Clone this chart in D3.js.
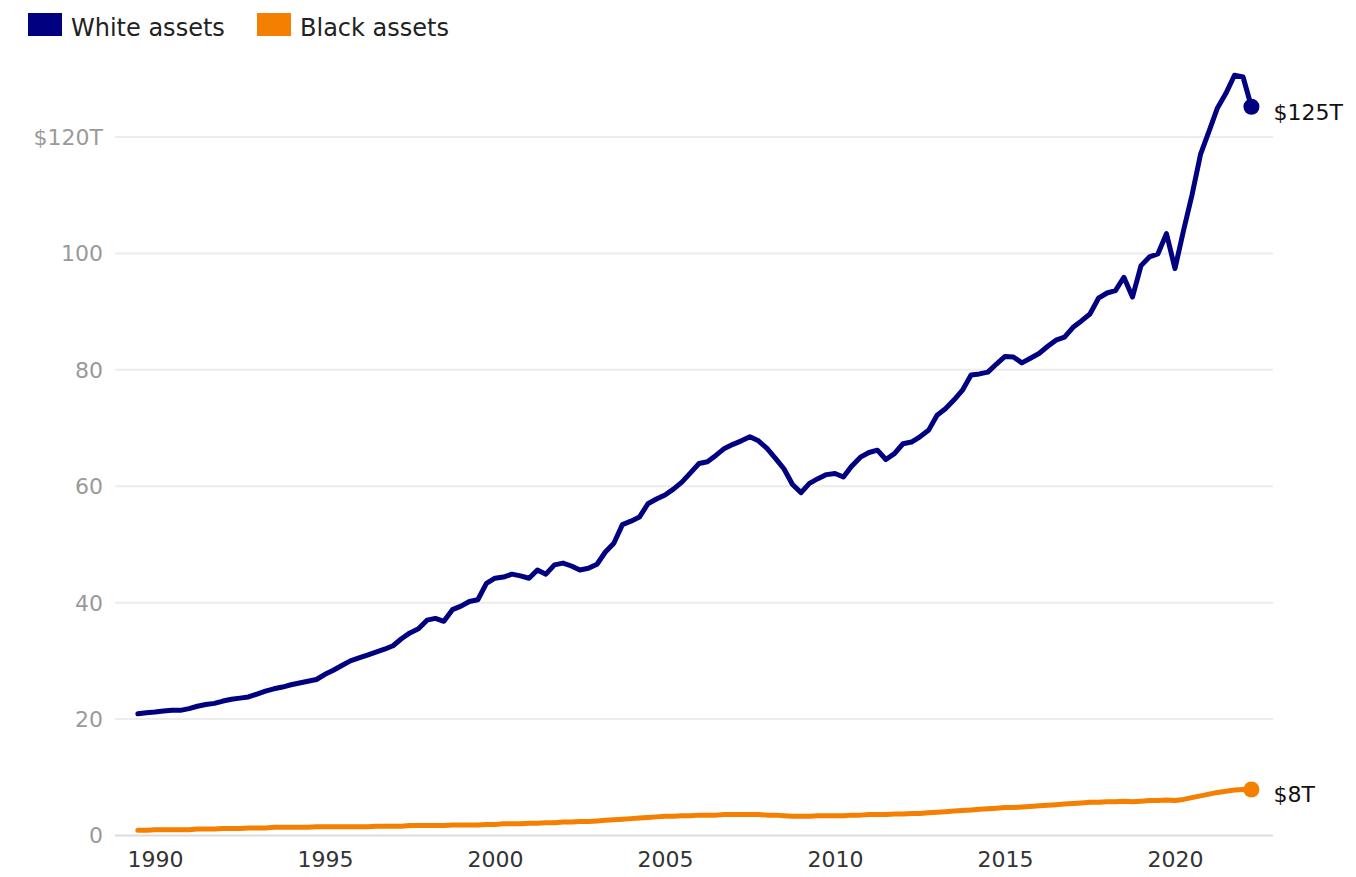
<!DOCTYPE html>
<html>
<head>
<meta charset="utf-8">
<script src="https://cdn.jsdelivr.net/npm/d3@7"></script>
<style>
  body { margin: 0; background: #fff; }
  text { font-family: "DejaVu Sans", "Liberation Sans", Arial, sans-serif; }
</style>
</head>
<body>
<div id="chart"></div>
<script>
const width = 1356;
const height = 877;

// quarterly values, trillions of dollars, starting 1989 Q3
const firstQuarter = [1989, 3];
const whiteAssets = [
  20.9, 21.1,
  21.2, 21.4, 21.5, 21.5,
  21.8, 22.2, 22.5, 22.7,
  23.1, 23.4, 23.6, 23.8,
  24.3, 24.8, 25.2, 25.5,
  25.9, 26.2, 26.5, 26.8,
  27.7, 28.4, 29.2, 30.0,
  30.5, 31.0, 31.5, 32.0,
  32.6, 33.8, 34.8, 35.5,
  37.0, 37.3, 36.8, 38.8,
  39.4, 40.2, 40.5, 43.3,
  44.2, 44.4, 44.9, 44.6,
  44.2, 45.6, 44.9, 46.5,
  46.8, 46.3, 45.6, 45.9,
  46.6, 48.7, 50.2, 53.4,
  54.0, 54.7, 57.0, 57.8,
  58.5, 59.5, 60.7, 62.3,
  63.9, 64.2, 65.3, 66.5,
  67.2, 67.8, 68.5, 67.8,
  66.5, 64.8, 63.0, 60.3,
  58.9, 60.5, 61.3, 62.0,
  62.2, 61.6, 63.5, 65.0,
  65.8, 66.2, 64.6, 65.6,
  67.3, 67.6, 68.5, 69.6,
  72.2, 73.3, 74.8, 76.5,
  79.1, 79.3, 79.6, 81.0,
  82.3, 82.2, 81.2, 82.0,
  82.8, 84.0, 85.1, 85.6,
  87.3, 88.4, 89.6, 92.3,
  93.2, 93.6, 95.9, 92.5,
  97.9, 99.4, 99.9, 103.4,
  97.4, 103.9, 110.0, 117.0,
  121.0, 125.0, 127.5, 130.6,
  130.3, 125.2
];
const blackAssets = [
  0.9, 0.9,
  1.0, 1.0, 1.0, 1.0,
  1.0, 1.1, 1.1, 1.1,
  1.2, 1.2, 1.2, 1.3,
  1.3, 1.3, 1.4, 1.4,
  1.4, 1.4, 1.4, 1.5,
  1.5, 1.5, 1.5, 1.5,
  1.5, 1.5, 1.6, 1.6,
  1.6, 1.6, 1.7, 1.7,
  1.7, 1.7, 1.7, 1.8,
  1.8, 1.8, 1.8, 1.9,
  1.9, 2.0, 2.0, 2.0,
  2.1, 2.1, 2.2, 2.2,
  2.3, 2.3, 2.4, 2.4,
  2.5, 2.6, 2.7, 2.8,
  2.9, 3.0, 3.1, 3.2,
  3.3, 3.3, 3.4, 3.4,
  3.5, 3.5, 3.5, 3.6,
  3.6, 3.6, 3.6, 3.6,
  3.5, 3.5, 3.4, 3.3,
  3.3, 3.3, 3.4, 3.4,
  3.4, 3.4, 3.5, 3.5,
  3.6, 3.6, 3.6, 3.7,
  3.7, 3.8, 3.8, 3.9,
  4.0, 4.1, 4.2, 4.3,
  4.4, 4.5, 4.6, 4.7,
  4.8, 4.8, 4.9, 5.0,
  5.1, 5.2, 5.3, 5.4,
  5.5, 5.6, 5.7, 5.7,
  5.8, 5.8, 5.9, 5.8,
  5.9, 6.0, 6.0, 6.1,
  6.0, 6.2, 6.5, 6.8,
  7.1, 7.4, 7.6, 7.8,
  7.9, 7.9
];
const yTicks = [0, 20, 40, 60, 80, 100, 120];
const xTickYears = [1990, 1995, 2000, 2005, 2010, 2015, 2020];
const seriesNames = ["White assets", "Black assets"];
const endLabels = ["$125T", "$8T"];
const colors = ["#000080", "#f57f00"];

function quarterDate(i) {
  const q = firstQuarter[1] - 1 + i;
  return new Date(firstQuarter[0] + Math.floor(q / 4), (q % 4) * 3, 1);
}

const series = [whiteAssets, blackAssets].map((vals, k) => ({
  name: seriesNames[k],
  label: endLabels[k],
  color: colors[k],
  values: vals.map((v, i) => ({ date: quarterDate(i), value: v }))
}));

const svg = d3.select("#chart")
  .append("svg")
  .attr("width", width)
  .attr("height", height);

const x = d3.scaleTime()
  .domain([new Date(1990, 0, 1), new Date(2020, 0, 1)])
  .range([155, 1175]);

const y = d3.scaleLinear()
  .domain([0, 120])
  .range([835.5, 137]);

// grid + y labels
svg.selectAll(".grid")
  .data(yTicks)
  .enter().append("line")
  .attr("class", "grid")
  .attr("x1", 115)
  .attr("x2", 1273)
  .attr("y1", d => y(d))
  .attr("y2", d => y(d))
  .attr("stroke", d => d === 0 ? "#dcdcdc" : "#ececec")
  .attr("stroke-width", 2);

svg.selectAll(".ylab")
  .data(yTicks)
  .enter().append("text")
  .attr("class", "ylab")
  .attr("x", 103)
  .attr("y", d => y(d))
  .attr("dy", "0.36em")
  .attr("text-anchor", "end")
  .attr("fill", "#9a9a9a")
  .attr("font-size", 22)
  .text(d => d === 120 ? "$120T" : d);

// x labels
const xAxis = d3.axisBottom(x)
  .tickValues(xTickYears.map(yr => new Date(yr, 0, 1)))
  .tickFormat(d3.timeFormat("%Y"))
  .tickSize(0)
  .tickPadding(0);

const gx = svg.append("g")
  .attr("transform", "translate(0,851)")
  .call(xAxis);
gx.select(".domain").remove();
gx.selectAll("text")
  .attr("font-size", 22)
  .attr("font-family", "DejaVu Sans, Liberation Sans, Arial, sans-serif")
  .attr("fill", "#333");

// lines
const line = d3.line()
  .x(d => x(d.date))
  .y(d => y(d.value));

svg.selectAll(".series")
  .data(series)
  .enter().append("path")
  .attr("class", "series")
  .attr("d", d => line(d.values))
  .attr("fill", "none")
  .attr("stroke", d => d.color)
  .attr("stroke-width", 5)
  .attr("stroke-linejoin", "round")
  .attr("stroke-linecap", "round");

svg.selectAll(".enddot")
  .data(series)
  .enter().append("circle")
  .attr("class", "enddot")
  .attr("cx", d => x(d.values[d.values.length - 1].date))
  .attr("cy", d => y(d.values[d.values.length - 1].value))
  .attr("r", 8)
  .attr("fill", d => d.color);

svg.selectAll(".endlab")
  .data(series)
  .enter().append("text")
  .attr("class", "endlab")
  .attr("x", d => x(d.values[d.values.length - 1].date) + 22)
  .attr("y", d => y(d.values[d.values.length - 1].value) + 5)
  .attr("dy", "0.36em")
  .attr("font-size", 22)
  .attr("fill", "#111")
  .text(d => d.label);

// legend
const legend = svg.selectAll(".legend")
  .data(series)
  .enter().append("g")
  .attr("class", "legend")
  .attr("transform", (d, i) => `translate(${i === 0 ? 28 : 257},13)`);

legend.append("rect")
  .attr("width", 34)
  .attr("height", 23)
  .attr("fill", d => d.color);

legend.append("text")
  .attr("x", 43)
  .attr("y", 14)
  .attr("dy", "0.36em")
  .attr("font-size", 24)
  .attr("fill", "#222")
  .text(d => d.name);
</script>
</body>
</html>
